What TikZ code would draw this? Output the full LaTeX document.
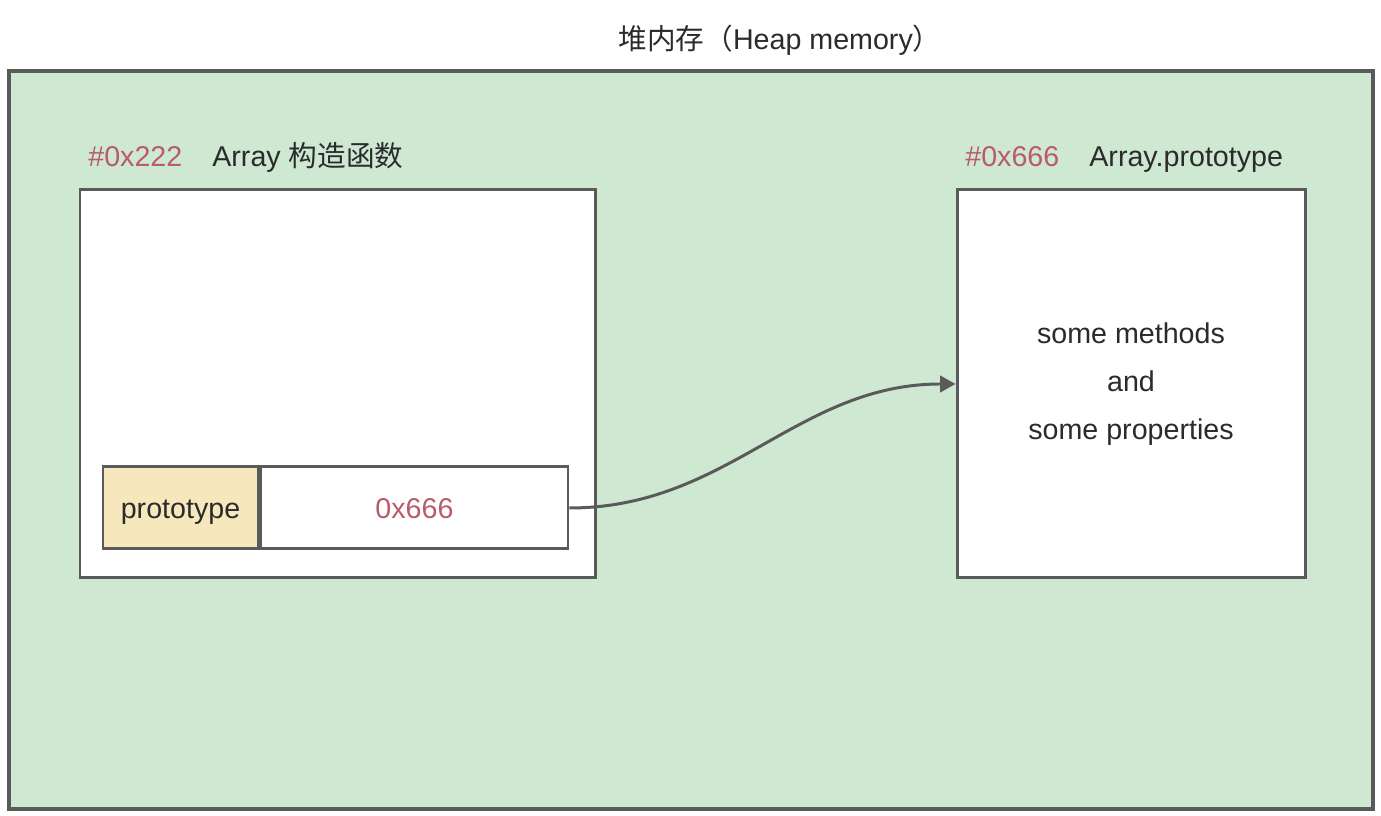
\documentclass[tikz,border=0pt]{standalone}
\usepackage{fontspec}
\setmainfont{Liberation Sans}
\newfontfamily\cjk{Noto Sans CJK SC}
\usetikzlibrary{arrows.meta, positioning, calc}
\definecolor{heapgreen}{HTML}{CFE8D1}
\definecolor{slotyellow}{HTML}{F6E8BC}
\definecolor{edgegray}{HTML}{5A5A5A}
\definecolor{addrred}{HTML}{B85C6A}
\definecolor{txtdark}{HTML}{2B2B2B}
\newcommand{\diagfont}{\fontsize{16.3}{19}\selectfont}
\tikzset{
    heapbox/.style={rectangle, draw=edgegray, fill=heapgreen, line width=1.9pt,
                    minimum width=27.28cm, minimum height=14.76cm},
    objbox/.style={rectangle, draw=edgegray, fill=white, line width=1.7pt,
                   minimum height=7.76cm, align=center},
    slotkey/.style={rectangle, draw=edgegray, fill=slotyellow, line width=1.7pt,
                    minimum width=3.1cm, minimum height=1.64cm,
                    text height=13pt, text depth=0.5pt, text=txtdark, font=\diagfont},
    slotval/.style={rectangle, draw=edgegray, fill=white, line width=1.7pt,
                    minimum width=6.14cm, minimum height=1.64cm,
                    text height=13pt, text depth=0.5pt, text=addrred, font=\diagfont},
    addr/.style={anchor=base west, text=addrred, inner sep=0pt, font=\diagfont},
    lbl/.style={anchor=base west, text=txtdark, inner sep=0pt, font=\diagfont},
    ptr/.style={-{Triangle[length=3.1mm, width=3.3mm]}, draw=edgegray, line width=1.7pt},
}

\begin{document}
\begin{tikzpicture}

    \useasboundingbox (0,0) rectangle (27.62,16.32);

    % heap area
    \node[heapbox] (heap) at (13.82,7.52) {};
    \node[text=txtdark, font=\diagfont] (title) at (15.6,15.52)
        {{\cjk 堆内存（}Heap memory{\cjk ）}};

    % Array constructor
    \node[objbox, minimum width=10.3cm] (ctor) at (6.75,8.64) {};
    \node[addr] (ctoraddr) at (1.76,12.98) {\#0x222};
    \node[lbl] (ctorname) at (4.24,12.98) {Array {\cjk 构造函数}};

    \node[slotkey] (protokey) at (3.61,6.16) {prototype};
    \node[slotval, right=0cm of protokey] (protoval) {0x666};

    % Array.prototype object
    \node[objbox, minimum width=6.96cm, text=txtdark,
          font=\fontsize{16.3}{27.3}\selectfont] (proto) at (22.62,8.64)
        {some methods\\and\\some properties};
    \node[addr] (protoaddr) at (19.3,12.98) {\#0x666};
    \node[lbl] (protoname) at (21.78,12.98) {Array.prototype};

    % prototype -> Array.prototype
    \draw[ptr] (protoval.east) to[out=0, in=180] (proto.west);

\end{tikzpicture}
\end{document}
